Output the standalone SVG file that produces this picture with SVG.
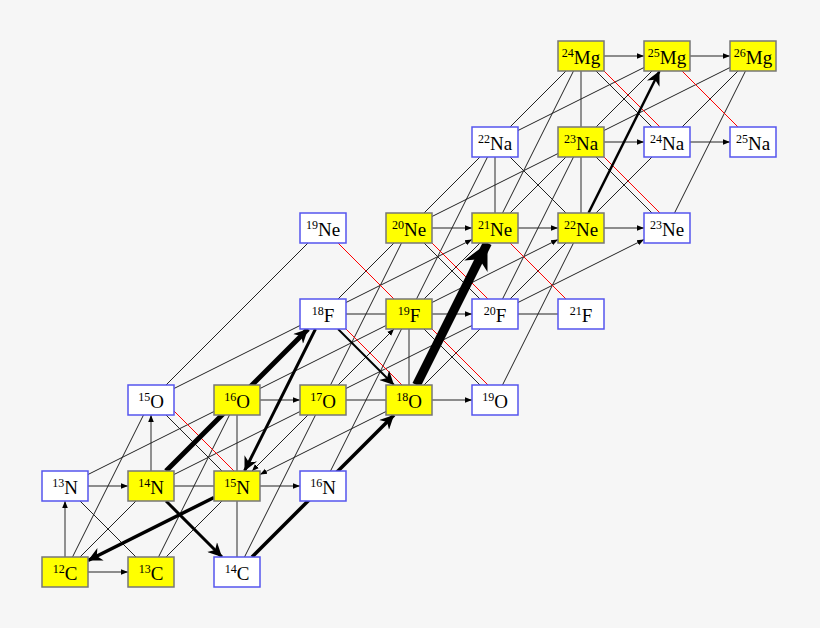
<svg xmlns="http://www.w3.org/2000/svg" width="820" height="628" viewBox="0 0 820 628">
<style>
.t{stroke:#222;stroke-width:1;fill:none}
.g{stroke:#777;stroke-width:1.6;fill:none}
.r{stroke:#f00;stroke-width:1;fill:none}
.k{stroke:#000;fill:none}
.y rect{fill:#ff0;stroke:#777;stroke-width:1.5}
.w rect{fill:#fff;stroke:#55e;stroke-width:1.5}
text{font-family:"Liberation Serif","DejaVu Serif",serif;font-size:19px;text-anchor:middle;fill:#000}
.s{font-size:12px}
</style>
<defs>
<marker id="a" viewBox="0 0 10 10" refX="10" refY="5" markerWidth="7" markerHeight="7" markerUnits="userSpaceOnUse" orient="auto"><path d="M0,1L10,5L0,9z" fill="#000"/></marker>
<marker id="b" viewBox="0 0 10 10" refX="10" refY="5" markerWidth="16" markerHeight="14" markerUnits="userSpaceOnUse" orient="auto"><path d="M0,0L10,5L0,10L3,5z" fill="#000"/></marker>
<marker id="c" viewBox="0 0 10 10" refX="10" refY="5" markerWidth="30" markerHeight="26" markerUnits="userSpaceOnUse" orient="auto"><path d="M0,0L10,5L0,10L3,5z" fill="#000"/></marker>
</defs>
<rect width="820" height="628" fill="#f6f6f6"/>
<g id="connectors">
<!-- gray vertical -->
<path class="g" d="M237,572V486M237,486V400M409,400V314M495,228V142M581,228V142M581,142V56"/>
<path class="g" d="M65,557V501" marker-end="url(#a)"/>
<path class="g" d="M151,471V415" marker-end="url(#a)"/>
<!-- horizontal arrows -->
<path class="t" d="M88,572H128" marker-end="url(#a)"/>
<path class="t" d="M88,486H128" marker-end="url(#a)"/>
<path class="t" d="M174,486H214"/>
<path class="t" d="M260,486H300" marker-end="url(#a)"/>
<path class="t" d="M260,400H300" marker-end="url(#a)"/>
<path class="t" d="M346,400H386"/>
<path class="t" d="M432,400H472" marker-end="url(#a)"/>
<path class="t" d="M346,314H386"/>
<path class="t" d="M432,314H472" marker-end="url(#a)"/>
<path class="t" d="M518,314H558"/>
<path class="t" d="M432,228H472" marker-end="url(#a)"/>
<path class="t" d="M518,228H558" marker-end="url(#a)"/>
<path class="t" d="M604,228H644" marker-end="url(#a)"/>
<path class="t" d="M604,142H644" marker-end="url(#a)"/>
<path class="t" d="M690,142H730" marker-end="url(#a)"/>
<path class="t" d="M604,56H644" marker-end="url(#a)"/>
<path class="t" d="M690,56H730" marker-end="url(#a)"/>
<!-- black (n,p) diagonals -->
<path class="t" d="M65,486L151,572M151,400L237,486M495,142L581,228M581,142L667,228M581,56L667,142M409,228L495,314M409,314L495,400"/>
<!-- alpha,n type -->
<path class="t" d="M65,572L151,400M151,572L237,400M237,572L323,400M323,486L409,314M323,400L409,228M409,314L495,142M495,400L581,228M495,314L581,142M495,228L581,56M667,228L753,56M151,400L323,228"/>
<!-- d(1,1) type -->
<path class="t" d="M65,572L151,486M151,572L237,486M409,400L495,314M323,314L409,228M409,314L495,228M495,314L581,228M409,228L495,142M495,228L581,142M581,228L667,142M495,142L581,56M581,142L667,56M667,142L753,56"/>
<path class="t" d="M308,415L252,471" marker-end="url(#a)"/>
<path class="t" d="M338,385L394,329" marker-end="url(#a)"/>
<!-- d(2,1) type -->
<path class="t" d="M65,486L237,400M151,486L323,400M151,400L323,314M237,400L409,314M323,400L495,314M409,228L581,142M495,142L667,56M581,142L753,56"/>
<path class="t" d="M346,302.5L472,239.5" marker-end="url(#a)"/>
<path class="t" d="M432,302.5L558,239.5" marker-end="url(#a)"/>
<path class="t" d="M518,302.5L644,239.5" marker-end="url(#a)"/>
<path class="t" d="M386,411.5L260,474.5" marker-end="url(#a)"/>
<!-- red beta -->
<path class="r" d="M163,400L245,482M323,228L409,314M331,314L413,396M417,314L499,396M417,228L499,310M495,228L581,314M589,142L671,224M589,56L671,138M667,56L753,142"/>
<!-- thick arrows -->
<path class="k" stroke-width="2" d="M338,329L394,385" marker-end="url(#b)"/>
<path class="k" stroke-width="3" d="M166,501L222,557" marker-end="url(#b)"/>
<path class="k" stroke-width="3.5" d="M214,497.5L88,560.5" marker-end="url(#b)"/>
<path class="k" stroke-width="5" d="M166,471L308,329" marker-end="url(#b)"/>
<path class="k" stroke-width="3" d="M315.5,329L244.5,471" marker-end="url(#b)"/>
<path class="k" stroke-width="3.5" d="M252,557L394,415" marker-end="url(#b)"/>
<path class="k" stroke-width="9" d="M416.5,385L487.5,243" marker-end="url(#c)"/>
<path class="k" stroke-width="2.5" d="M588.5,213L659.5,71" marker-end="url(#b)"/>
</g>
<g id="n12C" class="y"><rect x="42" y="557" width="46" height="30"/><text x="65" y="580"><tspan class="s" dy="-7">12</tspan><tspan dy="7">C</tspan></text></g>
<g id="n13C" class="y"><rect x="128" y="557" width="46" height="30"/><text x="151" y="580"><tspan class="s" dy="-7">13</tspan><tspan dy="7">C</tspan></text></g>
<g id="n14C" class="w"><rect x="214" y="557" width="46" height="30"/><text x="237" y="580"><tspan class="s" dy="-7">14</tspan><tspan dy="7">C</tspan></text></g>
<g id="n13N" class="w"><rect x="42" y="471" width="46" height="30"/><text x="65" y="494"><tspan class="s" dy="-7">13</tspan><tspan dy="7">N</tspan></text></g>
<g id="n14N" class="y"><rect x="128" y="471" width="46" height="30"/><text x="151" y="494"><tspan class="s" dy="-7">14</tspan><tspan dy="7">N</tspan></text></g>
<g id="n15N" class="y"><rect x="214" y="471" width="46" height="30"/><text x="237" y="494"><tspan class="s" dy="-7">15</tspan><tspan dy="7">N</tspan></text></g>
<g id="n16N" class="w"><rect x="300" y="471" width="46" height="30"/><text x="323" y="494"><tspan class="s" dy="-7">16</tspan><tspan dy="7">N</tspan></text></g>
<g id="n15O" class="w"><rect x="128" y="385" width="46" height="30"/><text x="151" y="408"><tspan class="s" dy="-7">15</tspan><tspan dy="7">O</tspan></text></g>
<g id="n16O" class="y"><rect x="214" y="385" width="46" height="30"/><text x="237" y="408"><tspan class="s" dy="-7">16</tspan><tspan dy="7">O</tspan></text></g>
<g id="n17O" class="y"><rect x="300" y="385" width="46" height="30"/><text x="323" y="408"><tspan class="s" dy="-7">17</tspan><tspan dy="7">O</tspan></text></g>
<g id="n18O" class="y"><rect x="386" y="385" width="46" height="30"/><text x="409" y="408"><tspan class="s" dy="-7">18</tspan><tspan dy="7">O</tspan></text></g>
<g id="n19O" class="w"><rect x="472" y="385" width="46" height="30"/><text x="495" y="408"><tspan class="s" dy="-7">19</tspan><tspan dy="7">O</tspan></text></g>
<g id="n18F" class="w"><rect x="300" y="299" width="46" height="30"/><text x="323" y="322"><tspan class="s" dy="-7">18</tspan><tspan dy="7">F</tspan></text></g>
<g id="n19F" class="y"><rect x="386" y="299" width="46" height="30"/><text x="409" y="322"><tspan class="s" dy="-7">19</tspan><tspan dy="7">F</tspan></text></g>
<g id="n20F" class="w"><rect x="472" y="299" width="46" height="30"/><text x="495" y="322"><tspan class="s" dy="-7">20</tspan><tspan dy="7">F</tspan></text></g>
<g id="n21F" class="w"><rect x="558" y="299" width="46" height="30"/><text x="581" y="322"><tspan class="s" dy="-7">21</tspan><tspan dy="7">F</tspan></text></g>
<g id="n19Ne" class="w"><rect x="300" y="213" width="46" height="30"/><text x="323" y="236"><tspan class="s" dy="-7">19</tspan><tspan dy="7">Ne</tspan></text></g>
<g id="n20Ne" class="y"><rect x="386" y="213" width="46" height="30"/><text x="409" y="236"><tspan class="s" dy="-7">20</tspan><tspan dy="7">Ne</tspan></text></g>
<g id="n21Ne" class="y"><rect x="472" y="213" width="46" height="30"/><text x="495" y="236"><tspan class="s" dy="-7">21</tspan><tspan dy="7">Ne</tspan></text></g>
<g id="n22Ne" class="y"><rect x="558" y="213" width="46" height="30"/><text x="581" y="236"><tspan class="s" dy="-7">22</tspan><tspan dy="7">Ne</tspan></text></g>
<g id="n23Ne" class="w"><rect x="644" y="213" width="46" height="30"/><text x="667" y="236"><tspan class="s" dy="-7">23</tspan><tspan dy="7">Ne</tspan></text></g>
<g id="n22Na" class="w"><rect x="472" y="127" width="46" height="30"/><text x="495" y="150"><tspan class="s" dy="-7">22</tspan><tspan dy="7">Na</tspan></text></g>
<g id="n23Na" class="y"><rect x="558" y="127" width="46" height="30"/><text x="581" y="150"><tspan class="s" dy="-7">23</tspan><tspan dy="7">Na</tspan></text></g>
<g id="n24Na" class="w"><rect x="644" y="127" width="46" height="30"/><text x="667" y="150"><tspan class="s" dy="-7">24</tspan><tspan dy="7">Na</tspan></text></g>
<g id="n25Na" class="w"><rect x="730" y="127" width="46" height="30"/><text x="753" y="150"><tspan class="s" dy="-7">25</tspan><tspan dy="7">Na</tspan></text></g>
<g id="n24Mg" class="y"><rect x="558" y="41" width="46" height="30"/><text x="581" y="64"><tspan class="s" dy="-7">24</tspan><tspan dy="7">Mg</tspan></text></g>
<g id="n25Mg" class="y"><rect x="644" y="41" width="46" height="30"/><text x="667" y="64"><tspan class="s" dy="-7">25</tspan><tspan dy="7">Mg</tspan></text></g>
<g id="n26Mg" class="y"><rect x="730" y="41" width="46" height="30"/><text x="753" y="64"><tspan class="s" dy="-7">26</tspan><tspan dy="7">Mg</tspan></text></g>
</svg>
